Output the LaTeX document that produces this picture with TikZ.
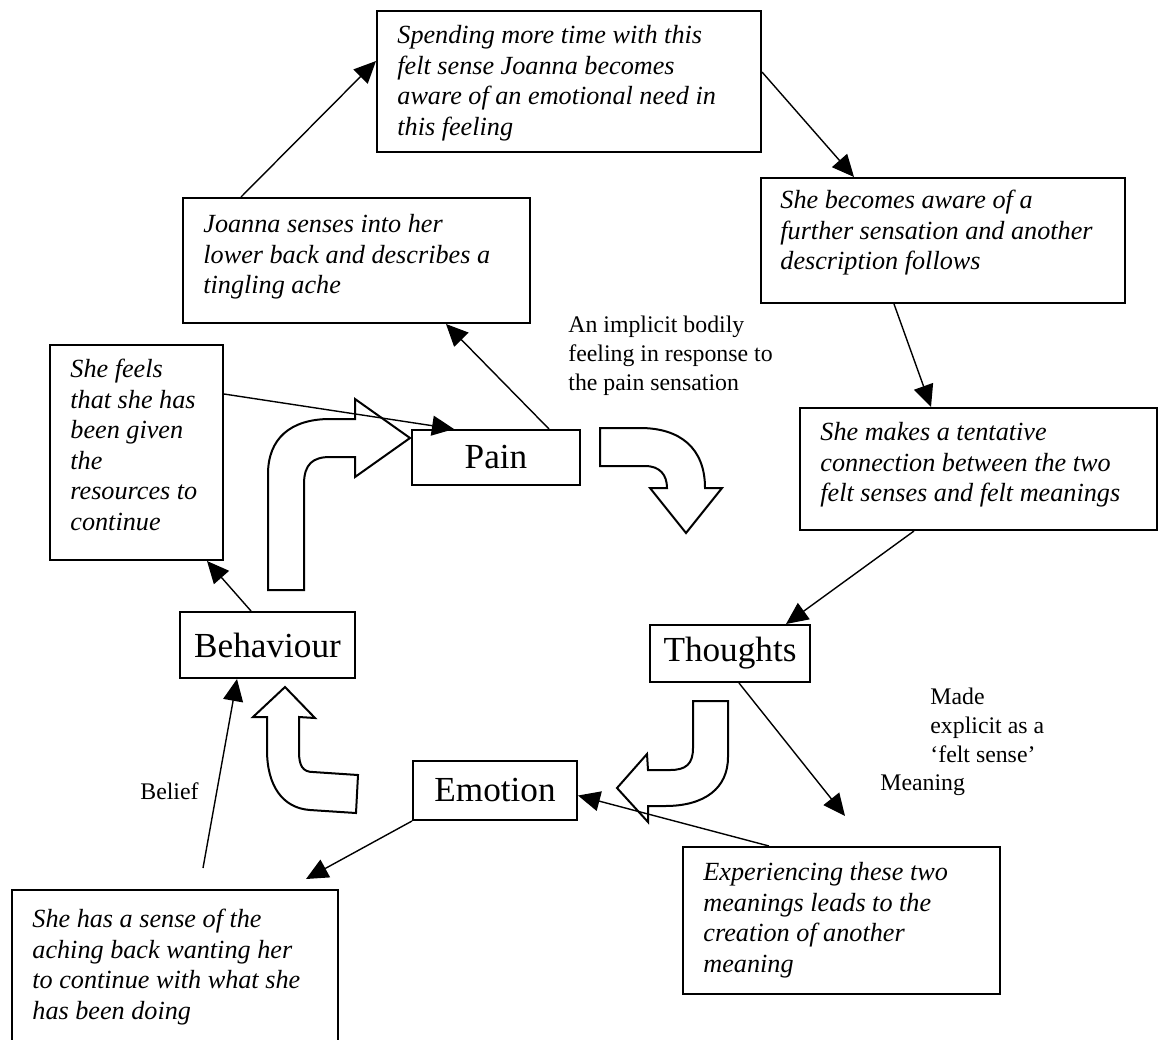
\documentclass[tikz,border=0pt]{standalone}
\usepackage{fontspec}
\setmainfont{Liberation Serif}
\usetikzlibrary{arrows.meta,fit}
\begin{document}
\begin{tikzpicture}[x=0.5pt,y=-0.5pt,
  frame/.style={draw,line width=1pt,inner sep=0pt},
  notetext/.style={anchor=north west,inner sep=0pt,align=left,
    font=\fontsize{13.1}{15.25}\selectfont\itshape},
  labeltext/.style={anchor=north west,inner sep=0pt,align=left,
    font=\fontsize{11.9}{14.3}\selectfont},
  mainbox/.style={draw,line width=1pt,inner sep=0pt,
    font=\fontsize{17.6}{20}\selectfont},
  link/.style={line width=0.7pt,-{Triangle[length=11pt,width=10pt]}},
  blockarrow/.style={draw,fill=white,line width=1pt,line join=miter}]
\useasboundingbox (0,0) rectangle (1160,1039);

% text boxes
\node[frame,fit={(377,11) (761,152)}] (b1) {};
\node[notetext] at (397,25) {Spending more time with this\\felt sense Joanna becomes\\aware of an emotional need in\\this feeling};

\node[frame,fit={(183,198) (530,323)}] (b2) {};
\node[notetext] at (203,214) {Joanna senses into her\\lower back and describes a\\tingling ache};

\node[frame,fit={(761,178) (1125,303)}] (b3) {};
\node[notetext] at (780,190) {She becomes aware of a\\further sensation and another\\description follows};

\node[frame,fit={(50,345) (223,560)}] (b4) {};
\node[notetext] at (70,359) {She feels\\that she has\\been given\\the\\resources to\\continue};

\node[frame,fit={(800,408) (1157,530)}] (b5) {};
\node[notetext] at (820,422) {She makes a tentative\\connection between the two\\felt senses and felt meanings};

\node[frame,fit={(683,847) (1000,994)}] (b10) {};
\node[notetext] at (703,862) {Experiencing these two\\meanings leads to the\\creation of another\\meaning};

\node[frame,fit={(12,890) (338,1060)}] (b11) {};
\node[notetext] at (32,909) {She has a sense of the\\aching back wanting her\\to continue with what she\\has been doing};

% the four main boxes
\node[mainbox,minimum width=84pt,minimum height=27.5pt] (pain) at (496,457.5) {Pain};
\node[mainbox,minimum width=87.5pt,minimum height=33pt] (beh) at (267.5,645) {Behaviour};
\node[mainbox,minimum width=80pt,minimum height=28.5pt] (thou) at (730,653.5) {Thoughts};
\node[mainbox,minimum width=82pt,minimum height=29.5pt] (emo) at (495,790.5) {Emotion};

% free labels
\node[labeltext] (impl) at (568,316) {An implicit bodily\\feeling in response to\\the pain sensation};
\node[labeltext] (made) at (930,688) {Made\\explicit as a\\‘felt sense’};
\node[labeltext] (mean) at (880,774) {Meaning};
\node[labeltext] (bel) at (140,782) {Belief};

% curved block arrows of the cycle
\draw[blockarrow] (253,717) -- (285,687) -- (315,718) -- (299,717) -- (299,752)
  .. controls (299,766) and (303,772) .. (313,772) -- (358,775) -- (356,813) -- (310,810)
  .. controls (282,808) and (267,785) .. (267,750) -- (267,717) -- cycle;
\draw[blockarrow] (693,701) -- (728,701) -- (728,757)
  .. controls (728,788) and (705,806) .. (665,806) -- (648,806) -- (648,822) -- (617,788)
  -- (647,754) -- (648,770) -- (670,770) .. controls (686,770) and (693,764) .. (693,748) -- cycle;
\draw[blockarrow] (600,428) -- (640,428) .. controls (680,428) and (705,448) .. (705,488)
  -- (722,488) -- (686,533) -- (650,488) -- (667,488)
  .. controls (667,475) and (660,466) .. (645,466) -- (600,466) -- cycle;
\draw[blockarrow] (268,590) -- (268,474) .. controls (268,439) and (290,419) .. (330,419)
  -- (355,419) -- (355,399) -- (410,438) -- (355,477) -- (355,457) -- (330,457)
  .. controls (313,457) and (304,464) .. (304,484) -- (304,590) -- cycle;

% connectors
\coordinate (mend) at (845,816);
\coordinate (bstart) at (203,868);
\draw[link] ([shift={(59,0)}]b2.north west) -- ([shift={(0,51)}]b1.north west);
\draw[link] ([shift={(0,62)}]b1.north east) -- ([shift={(94,0)}]b3.north west);
\draw[link] ([shift={(134,0)}]b3.south west) -- ([shift={(132,0)}]b5.north west);
\draw[link] ([shift={(115,0)}]b5.south west) -- ([shift={(-25,0)}]thou.north east);
\draw[link] ([shift={(90,0)}]thou.south west) -- (mend);
\draw[link] ([shift={(87,0)}]b10.north west) -- ([shift={(0,5)}]emo.east);
\draw[link] (emo.south west) -- ([shift={(295,-10)}]b11.north west);
\draw[link] (bstart) -- ([shift={(58,0)}]beh.south west);
\draw[link] ([shift={(72,0)}]beh.north west) -- ([shift={(158,0)}]b4.south west);
\draw[link] ([shift={(0,50)}]b4.north east) -- ([shift={(43,0)}]pain.north west);
\draw[link] ([shift={(-32,0)}]pain.north east) -- ([shift={(-85,0)}]b2.south east);
\end{tikzpicture}
\end{document}
